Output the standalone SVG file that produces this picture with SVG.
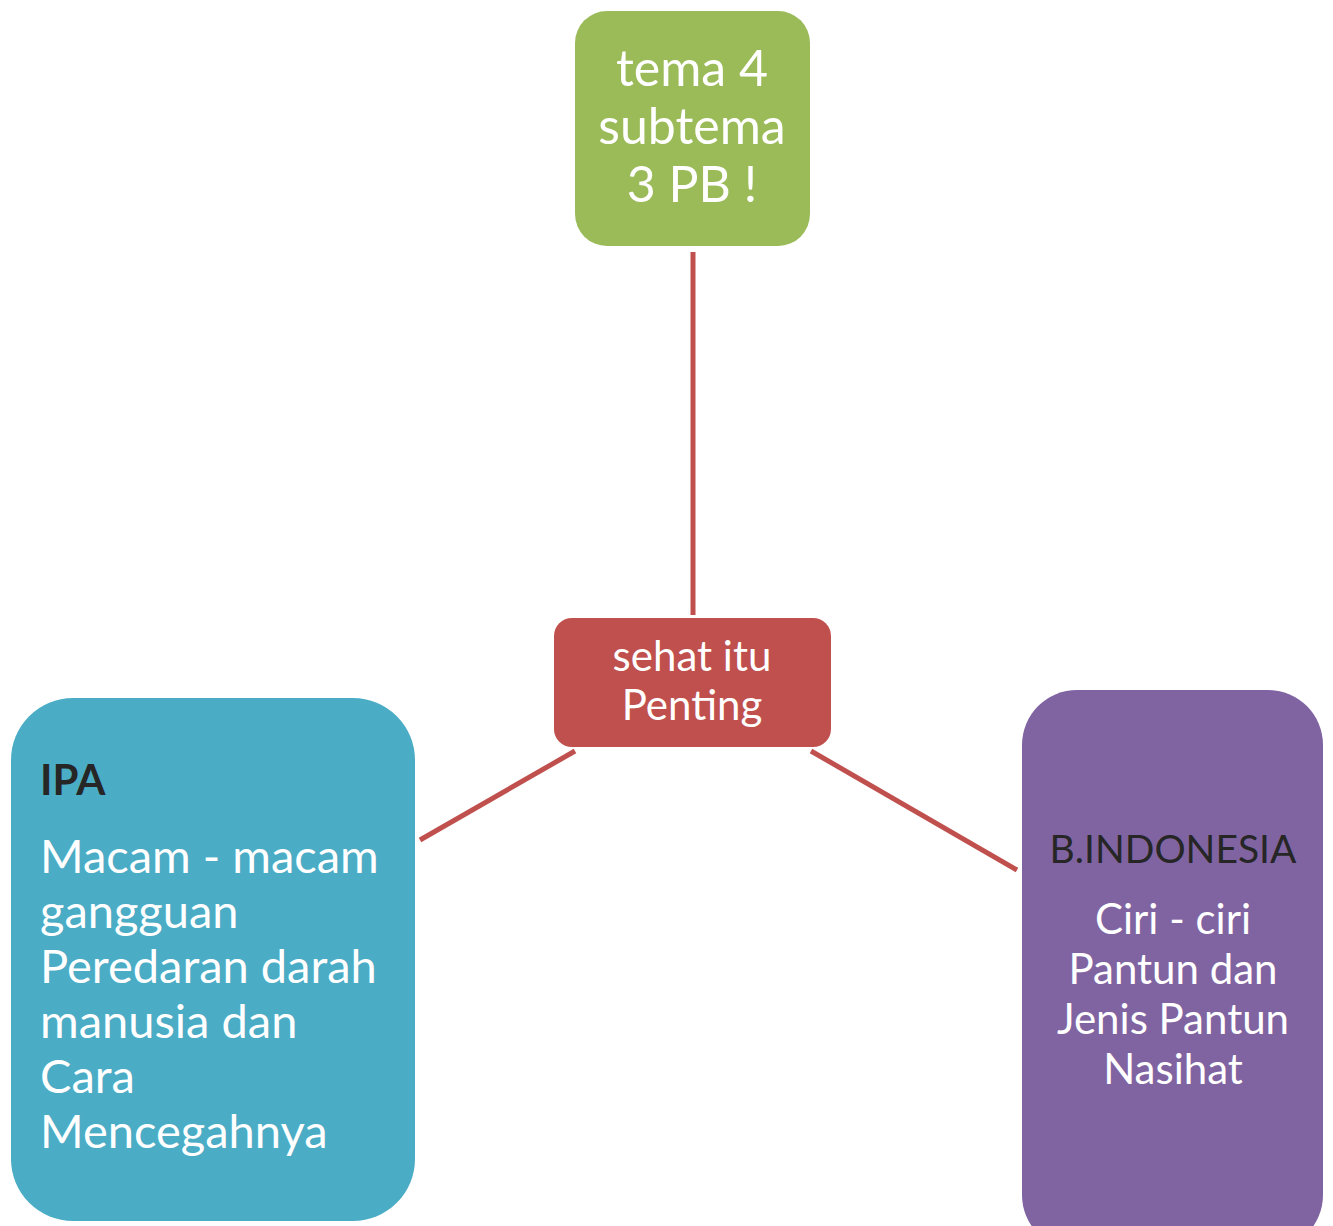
<svg xmlns="http://www.w3.org/2000/svg" width="1333" height="1226" viewBox="0 0 1333 1226">
<style>
text{font-family:Lato,"Open Sans","Liberation Sans",sans-serif;fill:#fff}
.c{text-anchor:middle}
.dark{fill:#262626}
.link{stroke:#C0504D;stroke-width:5;fill:none}
</style>
<rect width="1333" height="1226" fill="#fff"/>
<g id="connectors">
<line class="link" x1="693" y1="252" x2="693" y2="615"/>
<line class="link" x1="575" y1="751" x2="420" y2="840"/>
<line class="link" x1="811" y1="751" x2="1017" y2="870"/>
</g>
<g id="node-tema">
<rect x="575" y="11" width="235" height="235" rx="32" fill="#9BBB59"/>
<text class="c" x="692" y="86" font-size="50">tema 4</text>
<text class="c" x="692" y="144" font-size="50">subtema</text>
<text class="c" x="692" y="202" font-size="50">3 PB !</text>
</g>
<g id="node-sehat">
<rect x="554" y="618" width="277" height="129" rx="18" fill="#C0504D"/>
<text class="c" x="692" y="671" font-size="42">sehat itu</text>
<text class="c" x="692" y="720" font-size="42">Penting</text>
</g>
<g id="node-ipa">
<rect x="11" y="698" width="404" height="523" rx="62" fill="#4BACC6"/>
<text class="dark" x="40" y="795" font-size="42" font-weight="bold">IPA</text>
<text x="40" y="873" font-size="47">Macam - macam</text>
<text x="40" y="928" font-size="47">gangguan</text>
<text x="40" y="983" font-size="47">Peredaran darah</text>
<text x="40" y="1038" font-size="47">manusia dan</text>
<text x="40" y="1093" font-size="47">Cara</text>
<text x="40" y="1148" font-size="47">Mencegahnya</text>
</g>
<g id="node-bindonesia">
<rect x="1022" y="690" width="301" height="560" rx="55" fill="#8064A2"/>
<text class="c dark" x="1173" y="863" font-size="39">B.INDONESIA</text>
<text class="c" x="1173" y="934" font-size="42">Ciri - ciri</text>
<text class="c" x="1173" y="984" font-size="42">Pantun dan</text>
<text class="c" x="1173" y="1034" font-size="42">Jenis Pantun</text>
<text class="c" x="1173" y="1084" font-size="42">Nasihat</text>
</g>
</svg>
